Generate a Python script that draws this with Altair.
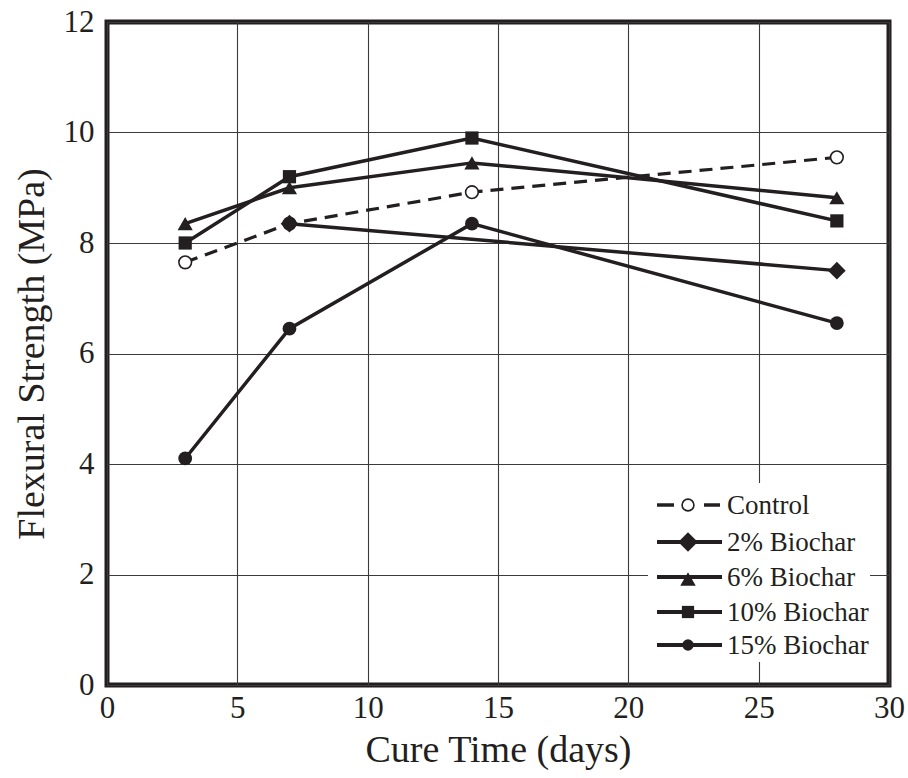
import altair as alt
import pandas as pd

# ---- data ----
series_names = ["Control", "2% Biochar", "6% Biochar", "10% Biochar", "15% Biochar"]
days = [3, 7, 14, 28]
days_2pct = [7, 28]
control = [7.65, 8.35, 8.92, 9.55]
biochar_2 = [8.35, 7.50]
biochar_6 = [8.35, 9.00, 9.45, 8.82]
biochar_10 = [8.00, 9.20, 9.90, 8.40]
biochar_15 = [4.10, 6.45, 8.35, 6.55]
x_ticks = [0, 5, 10, 15, 20, 25, 30]
y_ticks = [0, 2, 4, 6, 8, 10, 12]

rows = []
for name, xs, ys in zip(series_names,
                        [days, days_2pct, days, days, days],
                        [control, biochar_2, biochar_6, biochar_10, biochar_15]):
    for x, y in zip(xs, ys):
        rows.append({"series": name, "day": x, "strength": y})
df = pd.DataFrame(rows)

# ---- styles ----
INK = "#231f20"
FONT = "Liberation Serif"
styles = {
    "Control": dict(shape="circle", fill="white", size=160, lsize=140, dash=[13, 8], sw=1.6),
    "2% Biochar": dict(shape="diamond", fill=INK, size=310, lsize=380, dash=None, sw=0),
    "6% Biochar": dict(shape="triangle-up", fill=INK, size=230, lsize=240, dash=None, sw=0),
    "10% Biochar": dict(shape="square", fill=INK, size=175, lsize=150, dash=None, sw=0),
    "15% Biochar": dict(shape="circle", fill=INK, size=190, lsize=130, dash=None, sw=0),
}

x_axis = alt.Axis(values=x_ticks, title="Cure Time (days)", grid=True, domain=False,
                  ticks=False, tickSize=0, labelPadding=8, titlePadding=8,
                  labelFontSize=31, titleFontSize=38, labelFont=FONT, titleFont=FONT,
                  labelColor=INK, titleColor=INK, titleFontWeight="normal",
                  gridColor="#3a3a3a", gridWidth=1.1, labelFlush=False)
y_axis = alt.Axis(values=y_ticks, title="Flexural Strength (MPa)", grid=True, domain=False,
                  ticks=False, tickSize=0, labelPadding=13, titlePadding=12,
                  labelFontSize=31, titleFontSize=38, labelFont=FONT, titleFont=FONT,
                  labelColor=INK, titleColor=INK, titleFontWeight="normal",
                  gridColor="#3a3a3a", gridWidth=1.1, labelFlush=False)

X = alt.X("day:Q", scale=alt.Scale(domain=[0, 30], nice=False, zero=False), axis=x_axis)
Y = alt.Y("strength:Q", scale=alt.Scale(domain=[0, 12], nice=False, zero=False), axis=y_axis)

layers = []
for name in series_names:
    st = styles[name]
    sub = alt.Chart(df).transform_filter(alt.datum.series == name)
    line_kw = dict(color=INK, strokeWidth=3.2 if st["dash"] else 3.5)
    if st["dash"]:
        line_kw["strokeDash"] = st["dash"]
    layers.append(sub.mark_line(**line_kw).encode(x=X, y=Y))
for name in series_names:
    st = styles[name]
    sub = alt.Chart(df).transform_filter(alt.datum.series == name)
    pt_kw = dict(shape=st["shape"], filled=True, fill=st["fill"], size=st["size"], opacity=1)
    if st["sw"]:
        pt_kw.update(stroke=INK, strokeWidth=st["sw"])
    layers.append(sub.mark_point(**pt_kw).encode(x=X, y=Y))

# ---- legend (drawn inside the plot, bottom right) ----
one = pd.DataFrame({"k": [0]})
layers.append(alt.Chart(one).mark_rect(fill="white").encode(
    x=alt.value(541), x2=alt.value(763), y=alt.value(461), y2=alt.value(640)))
row_y = [483, 520, 555, 590, 623]
for name, ry in zip(series_names, row_y):
    st = styles[name]
    if st["dash"]:
        for a, b in [(550, 567), (597, 613)]:
            layers.append(alt.Chart(one).mark_rule(color=INK, strokeWidth=3.5).encode(
                x=alt.value(a), x2=alt.value(b), y=alt.value(ry)))
    else:
        layers.append(alt.Chart(one).mark_rule(color=INK, strokeWidth=4).encode(
            x=alt.value(550), x2=alt.value(615), y=alt.value(ry)))
    pt_kw = dict(shape=st["shape"], filled=True, fill=st["fill"], size=st["lsize"], opacity=1)
    if st["sw"]:
        pt_kw.update(stroke=INK, strokeWidth=st["sw"])
    layers.append(alt.Chart(one).mark_point(**pt_kw).encode(
        x=alt.value(581), y=alt.value(ry + (2 if st["shape"] == "triangle-up" else 0))))
    layers.append(alt.Chart(pd.DataFrame({"label": [name]})).mark_text(
        align="left", baseline="middle", font=FONT, fontSize=27, color=INK).encode(
        x=alt.value(620), y=alt.value(ry + 1), text="label:N"))

chart = alt.layer(*layers).properties(
    width=782, height=663,
    padding={"left": 107, "top": 22, "right": 19, "bottom": 93},
    autosize=alt.AutoSizeParams(type="none"),
    background="white",
).configure_view(stroke=INK, strokeWidth=5)

chart.save("out.html", embed_options={"renderer": "svg", "actions": False})
